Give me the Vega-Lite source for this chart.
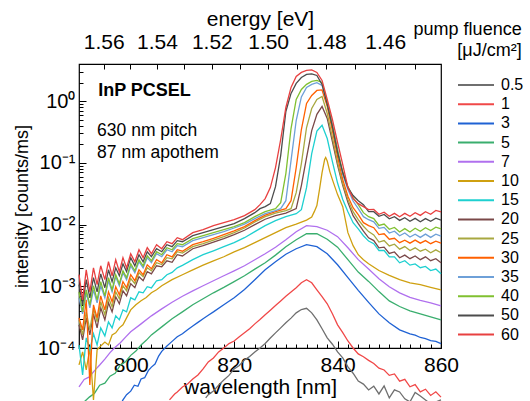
{
"$schema": "https://vega.github.io/schema/vega-lite/v6.json",
"width": 362, "height": 284,
"autosize": {"type": "none"},
"padding": {"left": 79, "top": 64, "right": 89, "bottom": 53},
"background": "white",
"config": {
 "font": "Liberation Sans",
 "view": {"stroke": "black", "strokeWidth": 1.2},
 "axis": {"labelFont": "Liberation Sans", "titleFont": "Liberation Sans", "labelColor": "black", "titleColor": "black", "tickColor": "black", "domainColor": "black", "grid": false, "titleFontWeight": "normal", "labelFlush": false, "labelOverlap": false, "tickWidth": 1},
 "legend": {"labelFont": "Liberation Sans", "titleFont": "Liberation Sans", "labelColor": "black", "titleColor": "black"}
},
"data": {"values": [
{"f":0.5,"w":814.5,"i":1.55e-5},{"f":0.5,"w":815,"i":1.75e-5},{"f":0.5,"w":816,"i":2.01e-5},{"f":0.5,"w":817,"i":2.5e-5},{"f":0.5,"w":818,"i":3.03e-5},{"f":0.5,"w":819,"i":3.6e-5},{"f":0.5,"w":820,"i":4.58e-5},{"f":0.5,"w":821,"i":5.2e-5},{"f":0.5,"w":822,"i":6.41e-5},{"f":0.5,"w":823,"i":7.3e-5},{"f":0.5,"w":824,"i":8.65e-5},{"f":0.5,"w":825,"i":0.0001},{"f":0.5,"w":826,"i":0.000118},{"f":0.5,"w":827,"i":0.000145},{"f":0.5,"w":828,"i":0.000176},{"f":0.5,"w":829,"i":0.000212},{"f":0.5,"w":830,"i":0.000256},{"f":0.5,"w":831,"i":0.000305},{"f":0.5,"w":832,"i":0.000371},{"f":0.5,"w":833,"i":0.00042},{"f":0.5,"w":834,"i":0.00044},{"f":0.5,"w":835,"i":0.000371},{"f":0.5,"w":836,"i":0.000286},{"f":0.5,"w":837,"i":0.000205},{"f":0.5,"w":838,"i":0.000146},{"f":0.5,"w":839,"i":0.000115},{"f":0.5,"w":840,"i":8.65e-5},{"f":0.5,"w":841,"i":6.9e-5},{"f":0.5,"w":842,"i":4.94e-5},{"f":0.5,"w":843,"i":3.9e-5},{"f":0.5,"w":844,"i":2.92e-5},{"f":0.5,"w":845,"i":2.6e-5},{"f":0.5,"w":846,"i":2.09e-5},{"f":0.5,"w":847,"i":2.4e-5},{"f":0.5,"w":848,"i":1.8e-5},{"f":0.5,"w":849,"i":2.43e-5},{"f":0.5,"w":850,"i":1.55e-5},{"f":0.5,"w":851,"i":2.1e-5},{"f":0.5,"w":852,"i":1.94e-5},{"f":0.5,"w":853,"i":1.5e-5},{"f":0.5,"w":854,"i":1.34e-5},{"f":0.5,"w":855,"i":1.9e-5},{"f":0.5,"w":856,"i":1.67e-5},{"f":0.5,"w":858,"i":1.24e-5},{"f":0.5,"w":860,"i":1.44e-5},
{"f":1,"w":807.5,"i":1.44e-5},{"f":1,"w":808.5,"i":1.8e-5},{"f":1,"w":809,"i":1.94e-5},{"f":1,"w":810,"i":2.34e-5},{"f":1,"w":811,"i":2.61e-5},{"f":1,"w":812,"i":3.15e-5},{"f":1,"w":813,"i":3.66e-5},{"f":1,"w":814,"i":4.58e-5},{"f":1,"w":815,"i":5.95e-5},{"f":1,"w":816,"i":6.91e-5},{"f":1,"w":817,"i":8.65e-5},{"f":1,"w":818,"i":0.0001},{"f":1,"w":819,"i":0.000118},{"f":1,"w":820,"i":0.00013},{"f":1,"w":821,"i":0.000152},{"f":1,"w":822,"i":0.000176},{"f":1,"w":823,"i":0.000205},{"f":1,"w":824,"i":0.000246},{"f":1,"w":825,"i":0.00029},{"f":1,"w":826,"i":0.000345},{"f":1,"w":827,"i":0.00041},{"f":1,"w":828,"i":0.00049},{"f":1,"w":829,"i":0.00058},{"f":1,"w":830,"i":0.00069},{"f":1,"w":831,"i":0.00081},{"f":1,"w":832,"i":0.000948},{"f":1,"w":833,"i":0.00114},{"f":1,"w":834,"i":0.00128},{"f":1,"w":835,"i":0.00114},{"f":1,"w":836,"i":0.000877},{"f":1,"w":837,"i":0.00068},{"f":1,"w":838,"i":0.00052},{"f":1,"w":839,"i":0.00036},{"f":1,"w":840,"i":0.000237},{"f":1,"w":841,"i":0.000178},{"f":1,"w":842,"i":0.00013},{"f":1,"w":843,"i":0.0001},{"f":1,"w":844,"i":8.03e-5},{"f":1,"w":845,"i":7.2e-5},{"f":1,"w":846,"i":6.3e-5},{"f":1,"w":847,"i":5.6e-5},{"f":1,"w":848,"i":4.7e-5},{"f":1,"w":849,"i":4.4e-5},{"f":1,"w":850,"i":3.6e-5},{"f":1,"w":851,"i":3.8e-5},{"f":1,"w":852,"i":2.9e-5},{"f":1,"w":853,"i":3.1e-5},{"f":1,"w":854,"i":2.35e-5},{"f":1,"w":855,"i":2.55e-5},{"f":1,"w":856,"i":1.95e-5},{"f":1,"w":857,"i":2.15e-5},{"f":1,"w":858,"i":1.7e-5},{"f":1,"w":859,"i":1.95e-5},{"f":1,"w":860,"i":1.6e-5},
{"f":3,"w":797.5,"i":9.9e-6},{"f":3,"w":798.5,"i":1.44e-5},{"f":3,"w":799.2,"i":1.75e-5},{"f":3,"w":800,"i":2.0e-5},{"f":3,"w":800.7,"i":2.5e-5},{"f":3,"w":801.4,"i":2.4e-5},{"f":3,"w":802,"i":3.15e-5},{"f":3,"w":802.7,"i":3.3e-5},{"f":3,"w":803.4,"i":4.3e-5},{"f":3,"w":804,"i":4.9e-5},{"f":3,"w":804.7,"i":5.5e-5},{"f":3,"w":805.4,"i":7.4e-5},{"f":3,"w":806,"i":8.8e-5},{"f":3,"w":807,"i":0.000108},{"f":3,"w":808,"i":0.000128},{"f":3,"w":809,"i":0.000152},{"f":3,"w":810,"i":0.00017},{"f":3,"w":811,"i":0.000198},{"f":3,"w":812,"i":0.000228},{"f":3,"w":813,"i":0.00026},{"f":3,"w":814,"i":0.000297},{"f":3,"w":815,"i":0.00034},{"f":3,"w":816,"i":0.000385},{"f":3,"w":818,"i":0.000501},{"f":3,"w":820,"i":0.000651},{"f":3,"w":822,"i":0.00089},{"f":3,"w":824,"i":0.00128},{"f":3,"w":826,"i":0.00185},{"f":3,"w":828,"i":0.0025},{"f":3,"w":830,"i":0.0033},{"f":3,"w":832,"i":0.00406},{"f":3,"w":834,"i":0.00472},{"f":3,"w":836,"i":0.00438},{"f":3,"w":838,"i":0.00337},{"f":3,"w":840,"i":0.00223},{"f":3,"w":842,"i":0.00138},{"f":3,"w":844,"i":0.00086},{"f":3,"w":846,"i":0.00055},{"f":3,"w":848,"i":0.000357},{"f":3,"w":850,"i":0.000256},{"f":3,"w":852,"i":0.000197},{"f":3,"w":854,"i":0.00017},{"f":3,"w":855,"i":0.000162},{"f":3,"w":856,"i":0.000148},{"f":3,"w":857,"i":0.000142},{"f":3,"w":858,"i":0.000132},{"f":3,"w":859,"i":0.000128},{"f":3,"w":860,"i":0.000118},
{"f":5,"w":791,"i":1.34e-5},{"f":5,"w":792,"i":1.6e-5},{"f":5,"w":793,"i":1.85e-5},{"f":5,"w":794,"i":2.5e-5},{"f":5,"w":795,"i":2.7e-5},{"f":5,"w":796,"i":3.5e-5},{"f":5,"w":797,"i":3.9e-5},{"f":5,"w":798,"i":5.3e-5},{"f":5,"w":799,"i":6.0e-5},{"f":5,"w":800,"i":7.6e-5},{"f":5,"w":801,"i":8.9e-5},{"f":5,"w":802,"i":0.000112},{"f":5,"w":803,"i":0.000133},{"f":5,"w":804,"i":0.000163},{"f":5,"w":806,"i":0.00022},{"f":5,"w":808,"i":0.000297},{"f":5,"w":810,"i":0.000385},{"f":5,"w":812,"i":0.000501},{"f":5,"w":814,"i":0.000627},{"f":5,"w":816,"i":0.000784},{"f":5,"w":818,"i":0.00096},{"f":5,"w":820,"i":0.00119},{"f":5,"w":822,"i":0.00148},{"f":5,"w":824,"i":0.0019},{"f":5,"w":826,"i":0.00241},{"f":5,"w":828,"i":0.0032},{"f":5,"w":830,"i":0.00438},{"f":5,"w":832,"i":0.00569},{"f":5,"w":834,"i":0.00712},{"f":5,"w":836,"i":0.0071},{"f":5,"w":838,"i":0.0058},{"f":5,"w":840,"i":0.0043},{"f":5,"w":842,"i":0.0027},{"f":5,"w":844,"i":0.0017},{"f":5,"w":846,"i":0.0012},{"f":5,"w":848,"i":0.00082},{"f":5,"w":850,"i":0.00058},{"f":5,"w":852,"i":0.00047},{"f":5,"w":854,"i":0.0004},{"f":5,"w":856,"i":0.000357},{"f":5,"w":858,"i":0.00032},{"f":5,"w":860,"i":0.000286},
{"f":7,"w":790,"i":2.34e-5},{"f":7,"w":791,"i":3.1e-5},{"f":7,"w":792,"i":3.4e-5},{"f":7,"w":793,"i":4.3e-5},{"f":7,"w":794,"i":5.3e-5},{"f":7,"w":795,"i":6.6e-5},{"f":7,"w":796,"i":8.4e-5},{"f":7,"w":797,"i":0.000103},{"f":7,"w":798,"i":0.000122},{"f":7,"w":799,"i":0.00015},{"f":7,"w":800,"i":0.000183},{"f":7,"w":802,"i":0.000246},{"f":7,"w":804,"i":0.000332},{"f":7,"w":806,"i":0.000431},{"f":7,"w":808,"i":0.00055},{"f":7,"w":810,"i":0.00069},{"f":7,"w":812,"i":0.000845},{"f":7,"w":814,"i":0.00102},{"f":7,"w":816,"i":0.00123},{"f":7,"w":818,"i":0.00148},{"f":7,"w":820,"i":0.00178},{"f":7,"w":822,"i":0.00215},{"f":7,"w":824,"i":0.00269},{"f":7,"w":826,"i":0.00337},{"f":7,"w":828,"i":0.0043},{"f":7,"w":830,"i":0.00569},{"f":7,"w":832,"i":0.00767},{"f":7,"w":834,"i":0.0096},{"f":7,"w":836,"i":0.0093},{"f":7,"w":838,"i":0.0081},{"f":7,"w":840,"i":0.00637},{"f":7,"w":842,"i":0.00422},{"f":7,"w":844,"i":0.0027},{"f":7,"w":846,"i":0.0019},{"f":7,"w":848,"i":0.00133},{"f":7,"w":850,"i":0.000983},{"f":7,"w":852,"i":0.000784},{"f":7,"w":854,"i":0.00066},{"f":7,"w":856,"i":0.00059},{"f":7,"w":858,"i":0.00054},{"f":7,"w":860,"i":0.000483},
{"f":10,"w":790,"i":5.32e-5},{"f":10,"w":790.7,"i":8.65e-5},{"f":10,"w":791.4,"i":4.41e-5},{"f":10,"w":792.1,"i":0.0001},{"f":10,"w":792.8,"i":1.44e-5},{"f":10,"w":793.5,"i":9.32e-5},{"f":10,"w":794.2,"i":0.000108},{"f":10,"w":795,"i":0.000125},{"f":10,"w":795.7,"i":0.000112},{"f":10,"w":796.4,"i":0.000163},{"f":10,"w":797.1,"i":0.000176},{"f":10,"w":797.8,"i":0.000212},{"f":10,"w":798.5,"i":0.000237},{"f":10,"w":799.2,"i":0.000308},{"f":10,"w":800,"i":0.000415},{"f":10,"w":801,"i":0.000501},{"f":10,"w":802,"i":0.000582},{"f":10,"w":803,"i":0.00066},{"f":10,"w":804,"i":0.000784},{"f":10,"w":805,"i":0.00088},{"f":10,"w":806,"i":0.00102},{"f":10,"w":808,"i":0.00128},{"f":10,"w":810,"i":0.00154},{"f":10,"w":812,"i":0.00185},{"f":10,"w":814,"i":0.0022},{"f":10,"w":816,"i":0.00259},{"f":10,"w":818,"i":0.00301},{"f":10,"w":820,"i":0.0036},{"f":10,"w":822,"i":0.00422},{"f":10,"w":824,"i":0.00509},{"f":10,"w":826,"i":0.00613},{"f":10,"w":828,"i":0.00739},{"f":10,"w":830,"i":0.00891},{"f":10,"w":832,"i":0.0102},{"f":10,"w":834,"i":0.0118},{"f":10,"w":835,"i":0.0132},{"f":10,"w":835.5,"i":0.0162},{"f":10,"w":836,"i":0.0203},{"f":10,"w":836.5,"i":0.0369},{"f":10,"w":837,"i":0.0696},{"f":10,"w":837.5,"i":0.1132},{"f":10,"w":837.7,"i":0.122},{"f":10,"w":838,"i":0.107},{"f":10,"w":838.5,"i":0.0722},{"f":10,"w":839,"i":0.0536},{"f":10,"w":840,"i":0.0306},{"f":10,"w":841,"i":0.01953},{"f":10,"w":842,"i":0.00739},{"f":10,"w":843,"i":0.00455},{"f":10,"w":844,"i":0.00325},{"f":10,"w":845,"i":0.0027},{"f":10,"w":846,"i":0.00232},{"f":10,"w":848,"i":0.0018},{"f":10,"w":850,"i":0.0015},{"f":10,"w":852,"i":0.00128},{"f":10,"w":854,"i":0.00114},{"f":10,"w":856,"i":0.00106},{"f":10,"w":858,"i":0.00096},{"f":10,"w":860,"i":0.000877},
{"f":15,"w":790,"i":0.000112},{"f":15,"w":790.7,"i":3.66e-5},{"f":15,"w":791.4,"i":0.000146},{"f":15,"w":792.1,"i":9.32e-5},{"f":15,"w":792.8,"i":0.00017},{"f":15,"w":793.5,"i":0.000112},{"f":15,"w":794.2,"i":0.000212},{"f":15,"w":795,"i":0.000157},{"f":15,"w":795.7,"i":0.000265},{"f":15,"w":796.4,"i":0.000212},{"f":15,"w":797.1,"i":0.000332},{"f":15,"w":797.8,"i":0.000286},{"f":15,"w":798.5,"i":0.000415},{"f":15,"w":799.2,"i":0.000385},{"f":15,"w":800,"i":0.000651},{"f":15,"w":800.8,"i":0.000604},{"f":15,"w":801.6,"i":0.000814},{"f":15,"w":802.4,"i":0.000784},{"f":15,"w":803.2,"i":0.000983},{"f":15,"w":804,"i":0.00094},{"f":15,"w":805,"i":0.00123},{"f":15,"w":806,"i":0.00128},{"f":15,"w":807,"i":0.00154},{"f":15,"w":808,"i":0.00168},{"f":15,"w":809,"i":0.00199},{"f":15,"w":810,"i":0.00218},{"f":15,"w":812,"i":0.0027},{"f":15,"w":814,"i":0.00325},{"f":15,"w":816,"i":0.00376},{"f":15,"w":818,"i":0.00438},{"f":15,"w":820,"i":0.00509},{"f":15,"w":822,"i":0.00613},{"f":15,"w":824,"i":0.00767},{"f":15,"w":826,"i":0.00959},{"f":15,"w":828,"i":0.01157},{"f":15,"w":830,"i":0.01344},{"f":15,"w":832,"i":0.01502},{"f":15,"w":833,"i":0.01745},{"f":15,"w":834,"i":0.0397},{"f":15,"w":835,"i":0.1416},{"f":15,"w":836,"i":0.328},{"f":15,"w":837,"i":0.406},{"f":15,"w":838,"i":0.248},{"f":15,"w":839,"i":0.105},{"f":15,"w":840,"i":0.0471},{"f":15,"w":841,"i":0.0255},{"f":15,"w":842,"i":0.0161},{"f":15,"w":843,"i":0.01074},{"f":15,"w":844,"i":0.0085},{"f":15,"w":845,"i":0.0066},{"f":15,"w":846,"i":0.0054},{"f":15,"w":847,"i":0.0049},{"f":15,"w":848,"i":0.0038},{"f":15,"w":849,"i":0.0038},{"f":15,"w":850,"i":0.003},{"f":15,"w":851,"i":0.003},{"f":15,"w":852,"i":0.0024},{"f":15,"w":853,"i":0.0026},{"f":15,"w":854,"i":0.0022},{"f":15,"w":855,"i":0.0023},{"f":15,"w":856,"i":0.002},{"f":15,"w":857,"i":0.0021},{"f":15,"w":858,"i":0.0018},{"f":15,"w":859,"i":0.0019},{"f":15,"w":860,"i":0.0016},
{"f":20,"w":790,"i":0.000237},{"f":20,"w":790.7,"i":0.000135},{"f":20,"w":791.4,"i":0.000308},{"f":20,"w":792.1,"i":0.000163},{"f":20,"w":792.8,"i":0.000357},{"f":20,"w":793.5,"i":0.000212},{"f":20,"w":794.2,"i":0.000448},{"f":20,"w":795,"i":0.000286},{"f":20,"w":795.7,"i":0.00054},{"f":20,"w":796.4,"i":0.000385},{"f":20,"w":797.1,"i":0.000676},{"f":20,"w":797.8,"i":0.00052},{"f":20,"w":798.5,"i":0.000845},{"f":20,"w":799.2,"i":0.000701},{"f":20,"w":800,"i":0.0011},{"f":20,"w":800.8,"i":0.000948},{"f":20,"w":801.6,"i":0.00143},{"f":20,"w":802.4,"i":0.00123},{"f":20,"w":803.2,"i":0.00172},{"f":20,"w":804,"i":0.00159},{"f":20,"w":805,"i":0.00215},{"f":20,"w":806,"i":0.00207},{"f":20,"w":807,"i":0.00259},{"f":20,"w":808,"i":0.00245},{"f":20,"w":809,"i":0.00325},{"f":20,"w":810,"i":0.0031},{"f":20,"w":812,"i":0.00406},{"f":20,"w":814,"i":0.00455},{"f":20,"w":816,"i":0.0052},{"f":20,"w":818,"i":0.00591},{"f":20,"w":820,"i":0.00686},{"f":20,"w":822,"i":0.0081},{"f":20,"w":824,"i":0.00996},{"f":20,"w":826,"i":0.0122},{"f":20,"w":828,"i":0.01394},{"f":20,"w":830,"i":0.0153},{"f":20,"w":832,"i":0.01812},{"f":20,"w":833,"i":0.0428},{"f":20,"w":834,"i":0.122},{"f":20,"w":835,"i":0.334},{"f":20,"w":836,"i":0.61},{"f":20,"w":837,"i":0.822},{"f":20,"w":838,"i":0.524},{"f":20,"w":839,"i":0.222},{"f":20,"w":840,"i":0.092},{"f":20,"w":841,"i":0.0432},{"f":20,"w":842,"i":0.0229},{"f":20,"w":843,"i":0.01394},{"f":20,"w":844,"i":0.01034},{"f":20,"w":845,"i":0.0078},{"f":20,"w":846,"i":0.0061},{"f":20,"w":847,"i":0.0055},{"f":20,"w":848,"i":0.0042},{"f":20,"w":849,"i":0.0043},{"f":20,"w":850,"i":0.0034},{"f":20,"w":851,"i":0.0036},{"f":20,"w":852,"i":0.0029},{"f":20,"w":853,"i":0.0032},{"f":20,"w":854,"i":0.0028},{"f":20,"w":855,"i":0.0031},{"f":20,"w":856,"i":0.0027},{"f":20,"w":857,"i":0.003},{"f":20,"w":858,"i":0.0026},{"f":20,"w":859,"i":0.0028},{"f":20,"w":860,"i":0.0024},
{"f":25,"w":790,"i":0.000286},{"f":25,"w":790.7,"i":0.000163},{"f":25,"w":791.4,"i":0.000385},{"f":25,"w":792.1,"i":0.000197},{"f":25,"w":792.8,"i":0.000448},{"f":25,"w":793.5,"i":0.000265},{"f":25,"w":794.2,"i":0.000561},{"f":25,"w":795,"i":0.000345},{"f":25,"w":795.7,"i":0.000651},{"f":25,"w":796.4,"i":0.000465},{"f":25,"w":797.1,"i":0.000814},{"f":25,"w":797.8,"i":0.000627},{"f":25,"w":798.5,"i":0.00102},{"f":25,"w":799.2,"i":0.000845},{"f":25,"w":800,"i":0.00133},{"f":25,"w":800.8,"i":0.0011},{"f":25,"w":801.6,"i":0.00166},{"f":25,"w":802.4,"i":0.00143},{"f":25,"w":803.2,"i":0.00199},{"f":25,"w":804,"i":0.00178},{"f":25,"w":805,"i":0.00241},{"f":25,"w":806,"i":0.00225},{"f":25,"w":807,"i":0.00291},{"f":25,"w":808,"i":0.00278},{"f":25,"w":809,"i":0.00363},{"f":25,"w":810,"i":0.00345},{"f":25,"w":812,"i":0.00438},{"f":25,"w":814,"i":0.0049},{"f":25,"w":816,"i":0.0056},{"f":25,"w":818,"i":0.00637},{"f":25,"w":820,"i":0.00739},{"f":25,"w":822,"i":0.0088},{"f":25,"w":824,"i":0.011},{"f":25,"w":826,"i":0.01344},{"f":25,"w":828,"i":0.0153},{"f":25,"w":830,"i":0.0168},{"f":25,"w":831,"i":0.01812},{"f":25,"w":832,"i":0.0329},{"f":25,"w":833,"i":0.0975},{"f":25,"w":834,"i":0.374},{"f":25,"w":835,"i":0.761},{"f":25,"w":836,"i":1.066},{"f":25,"w":837,"i":1.192},{"f":25,"w":838,"i":0.631},{"f":25,"w":839,"i":0.257},{"f":25,"w":840,"i":0.1011},{"f":25,"w":841,"i":0.0461},{"f":25,"w":842,"i":0.02536},{"f":25,"w":843,"i":0.0162},{"f":25,"w":844,"i":0.01201},{"f":25,"w":845,"i":0.0094},{"f":25,"w":846,"i":0.0077},{"f":25,"w":847,"i":0.0068},{"f":25,"w":848,"i":0.0052},{"f":25,"w":849,"i":0.0055},{"f":25,"w":850,"i":0.0045},{"f":25,"w":851,"i":0.0048},{"f":25,"w":852,"i":0.004},{"f":25,"w":853,"i":0.0044},{"f":25,"w":854,"i":0.0038},{"f":25,"w":855,"i":0.0042},{"f":25,"w":856,"i":0.0037},{"f":25,"w":857,"i":0.004},{"f":25,"w":858,"i":0.0035},{"f":25,"w":859,"i":0.0039},{"f":25,"w":860,"i":0.0035},
{"f":30,"w":790,"i":0.000308},{"f":30,"w":790.7,"i":0.000197},{"f":30,"w":791.4,"i":0.000604},{"f":30,"w":792.1,"i":2.52e-5},{"f":30,"w":792.8,"i":0.000501},{"f":30,"w":793.5,"i":0.000308},{"f":30,"w":794.2,"i":0.000701},{"f":30,"w":795,"i":0.000415},{"f":30,"w":795.7,"i":0.000814},{"f":30,"w":796.4,"i":0.000561},{"f":30,"w":797.1,"i":0.000983},{"f":30,"w":797.8,"i":0.000728},{"f":30,"w":798.5,"i":0.00119},{"f":30,"w":799.2,"i":0.000948},{"f":30,"w":800,"i":0.00154},{"f":30,"w":800.8,"i":0.00123},{"f":30,"w":801.6,"i":0.00185},{"f":30,"w":802.4,"i":0.00154},{"f":30,"w":803.2,"i":0.00223},{"f":30,"w":804,"i":0.00192},{"f":30,"w":805,"i":0.00269},{"f":30,"w":806,"i":0.0024},{"f":30,"w":807,"i":0.00325},{"f":30,"w":808,"i":0.003},{"f":30,"w":809,"i":0.00391},{"f":30,"w":810,"i":0.0037},{"f":30,"w":812,"i":0.00472},{"f":30,"w":814,"i":0.00528},{"f":30,"w":816,"i":0.006},{"f":30,"w":818,"i":0.00686},{"f":30,"w":820,"i":0.0079},{"f":30,"w":822,"i":0.00925},{"f":30,"w":824,"i":0.01157},{"f":30,"w":826,"i":0.0142},{"f":30,"w":828,"i":0.0162},{"f":30,"w":830,"i":0.01812},{"f":30,"w":831,"i":0.02442},{"f":30,"w":832,"i":0.084},{"f":30,"w":833,"i":0.347},{"f":30,"w":834,"i":0.918},{"f":30,"w":835,"i":1.238},{"f":30,"w":836,"i":1.49},{"f":30,"w":837,"i":1.52},{"f":30,"w":838,"i":0.822},{"f":30,"w":839,"i":0.334},{"f":30,"w":840,"i":0.1266},{"f":30,"w":841,"i":0.0536},{"f":30,"w":842,"i":0.0288},{"f":30,"w":843,"i":0.0188},{"f":30,"w":844,"i":0.01448},{"f":30,"w":845,"i":0.01074},{"f":30,"w":846,"i":0.0096},{"f":30,"w":847,"i":0.0089},{"f":30,"w":848,"i":0.0069},{"f":30,"w":849,"i":0.0071},{"f":30,"w":850,"i":0.0058},{"f":30,"w":851,"i":0.006},{"f":30,"w":852,"i":0.0051},{"f":30,"w":853,"i":0.0056},{"f":30,"w":854,"i":0.005},{"f":30,"w":855,"i":0.0056},{"f":30,"w":856,"i":0.005},{"f":30,"w":857,"i":0.0055},{"f":30,"w":858,"i":0.0049},{"f":30,"w":859,"i":0.0054},{"f":30,"w":860,"i":0.005},
{"f":35,"w":790,"i":0.000651},{"f":35,"w":790.7,"i":0.000357},{"f":35,"w":791.4,"i":0.000784},{"f":35,"w":792.1,"i":0.000448},{"f":35,"w":792.8,"i":0.000877},{"f":35,"w":793.5,"i":0.00054},{"f":35,"w":794.2,"i":0.00102},{"f":35,"w":795,"i":0.000651},{"f":35,"w":795.7,"i":0.00123},{"f":35,"w":796.4,"i":0.000814},{"f":35,"w":797.1,"i":0.00143},{"f":35,"w":797.8,"i":0.00102},{"f":35,"w":798.5,"i":0.00166},{"f":35,"w":799.2,"i":0.00128},{"f":35,"w":800,"i":0.00215},{"f":35,"w":800.8,"i":0.00166},{"f":35,"w":801.6,"i":0.0025},{"f":35,"w":802.4,"i":0.00199},{"f":35,"w":803.2,"i":0.00291},{"f":35,"w":804,"i":0.00241},{"f":35,"w":805,"i":0.00337},{"f":35,"w":806,"i":0.00301},{"f":35,"w":807,"i":0.00391},{"f":35,"w":808,"i":0.00363},{"f":35,"w":809,"i":0.00455},{"f":35,"w":810,"i":0.00438},{"f":35,"w":812,"i":0.00548},{"f":35,"w":814,"i":0.00613},{"f":35,"w":816,"i":0.00686},{"f":35,"w":818,"i":0.00767},{"f":35,"w":820,"i":0.0088},{"f":35,"w":822,"i":0.0102},{"f":35,"w":824,"i":0.01247},{"f":35,"w":826,"i":0.01502},{"f":35,"w":828,"i":0.0168},{"f":35,"w":829,"i":0.01812},{"f":35,"w":830,"i":0.02442},{"f":35,"w":831,"i":0.109},{"f":35,"w":832,"i":0.486},{"f":35,"w":833,"i":1.17},{"f":35,"w":834,"i":1.67},{"f":35,"w":835,"i":1.87},{"f":35,"w":836,"i":1.99},{"f":35,"w":837,"i":1.8},{"f":35,"w":838,"i":0.953},{"f":35,"w":839,"i":0.418},{"f":35,"w":840,"i":0.1644},{"f":35,"w":841,"i":0.0646},{"f":35,"w":842,"i":0.0369},{"f":35,"w":843,"i":0.0241},{"f":35,"w":844,"i":0.01812},{"f":35,"w":845,"i":0.01344},{"f":35,"w":846,"i":0.012},{"f":35,"w":847,"i":0.0111},{"f":35,"w":848,"i":0.0087},{"f":35,"w":849,"i":0.009},{"f":35,"w":850,"i":0.0073},{"f":35,"w":851,"i":0.0078},{"f":35,"w":852,"i":0.0066},{"f":35,"w":853,"i":0.0073},{"f":35,"w":854,"i":0.0063},{"f":35,"w":855,"i":0.007},{"f":35,"w":856,"i":0.0062},{"f":35,"w":857,"i":0.007},{"f":35,"w":858,"i":0.0062},{"f":35,"w":859,"i":0.007},{"f":35,"w":860,"i":0.0065},
{"f":40,"w":790,"i":0.000814},{"f":40,"w":790.7,"i":0.000385},{"f":40,"w":791.4,"i":0.000877},{"f":40,"w":792.1,"i":0.000501},{"f":40,"w":792.8,"i":0.00102},{"f":40,"w":793.5,"i":0.000604},{"f":40,"w":794.2,"i":0.00119},{"f":40,"w":795,"i":0.000701},{"f":40,"w":795.7,"i":0.00138},{"f":40,"w":796.4,"i":0.000877},{"f":40,"w":797.1,"i":0.00154},{"f":40,"w":797.8,"i":0.0011},{"f":40,"w":798.5,"i":0.00178},{"f":40,"w":799.2,"i":0.00138},{"f":40,"w":800,"i":0.00232},{"f":40,"w":800.8,"i":0.00178},{"f":40,"w":801.6,"i":0.00269},{"f":40,"w":802.4,"i":0.00215},{"f":40,"w":803.2,"i":0.00313},{"f":40,"w":804,"i":0.00259},{"f":40,"w":805,"i":0.00363},{"f":40,"w":806,"i":0.00325},{"f":40,"w":807,"i":0.00422},{"f":40,"w":808,"i":0.00391},{"f":40,"w":809,"i":0.0049},{"f":40,"w":810,"i":0.00472},{"f":40,"w":812,"i":0.00591},{"f":40,"w":814,"i":0.00661},{"f":40,"w":816,"i":0.00739},{"f":40,"w":818,"i":0.00827},{"f":40,"w":820,"i":0.00925},{"f":40,"w":822,"i":0.01074},{"f":40,"w":824,"i":0.01344},{"f":40,"w":826,"i":0.0162},{"f":40,"w":828,"i":0.01812},{"f":40,"w":829,"i":0.02266},{"f":40,"w":830,"i":0.067},{"f":40,"w":831,"i":0.36},{"f":40,"w":832,"i":1.066},{"f":40,"w":833,"i":1.549},{"f":40,"w":834,"i":1.87},{"f":40,"w":835,"i":2.09},{"f":40,"w":836,"i":2.167},{"f":40,"w":837,"i":2.01},{"f":40,"w":838,"i":0.953},{"f":40,"w":839,"i":0.389},{"f":40,"w":840,"i":0.158},{"f":40,"w":841,"i":0.071},{"f":40,"w":842,"i":0.0412},{"f":40,"w":843,"i":0.0274},{"f":40,"w":844,"i":0.02104},{"f":40,"w":845,"i":0.0156},{"f":40,"w":846,"i":0.01344},{"f":40,"w":847,"i":0.0125},{"f":40,"w":848,"i":0.0097},{"f":40,"w":849,"i":0.0102},{"f":40,"w":850,"i":0.0084},{"f":40,"w":851,"i":0.009},{"f":40,"w":852,"i":0.0076},{"f":40,"w":853,"i":0.0086},{"f":40,"w":854,"i":0.0076},{"f":40,"w":855,"i":0.0087},{"f":40,"w":856,"i":0.0078},{"f":40,"w":857,"i":0.0089},{"f":40,"w":858,"i":0.008},{"f":40,"w":859,"i":0.0091},{"f":40,"w":860,"i":0.0085},
{"f":50,"w":790,"i":0.00106},{"f":50,"w":790.7,"i":0.000501},{"f":50,"w":791.4,"i":0.00128},{"f":50,"w":792.1,"i":0.000651},{"f":50,"w":792.8,"i":0.00138},{"f":50,"w":793.5,"i":0.000814},{"f":50,"w":794.2,"i":0.00159},{"f":50,"w":795,"i":0.000948},{"f":50,"w":795.7,"i":0.00185},{"f":50,"w":796.4,"i":0.00119},{"f":50,"w":797.1,"i":0.00199},{"f":50,"w":797.8,"i":0.00148},{"f":50,"w":798.5,"i":0.00232},{"f":50,"w":799.2,"i":0.00172},{"f":50,"w":800,"i":0.00291},{"f":50,"w":800.8,"i":0.00215},{"f":50,"w":801.6,"i":0.00325},{"f":50,"w":802.4,"i":0.0025},{"f":50,"w":803.2,"i":0.00363},{"f":50,"w":804,"i":0.00301},{"f":50,"w":805,"i":0.00406},{"f":50,"w":806,"i":0.00363},{"f":50,"w":807,"i":0.00472},{"f":50,"w":808,"i":0.00438},{"f":50,"w":809,"i":0.00548},{"f":50,"w":810,"i":0.00528},{"f":50,"w":812,"i":0.00661},{"f":50,"w":814,"i":0.00739},{"f":50,"w":816,"i":0.00827},{"f":50,"w":818,"i":0.00925},{"f":50,"w":820,"i":0.01034},{"f":50,"w":822,"i":0.01247},{"f":50,"w":824,"i":0.0156},{"f":50,"w":825,"i":0.01812},{"f":50,"w":826,"i":0.01953},{"f":50,"w":827,"i":0.02184},{"f":50,"w":828,"i":0.0412},{"f":50,"w":829,"i":0.1314},{"f":50,"w":830,"i":0.68},{"f":50,"w":831,"i":1.334},{"f":50,"w":832,"i":1.937},{"f":50,"w":833,"i":2.42},{"f":50,"w":834,"i":2.71},{"f":50,"w":835,"i":2.76},{"f":50,"w":836,"i":2.61},{"f":50,"w":837,"i":1.87},{"f":50,"w":838,"i":0.884},{"f":50,"w":839,"i":0.388},{"f":50,"w":840,"i":0.147},{"f":50,"w":841,"i":0.0696},{"f":50,"w":842,"i":0.0397},{"f":50,"w":843,"i":0.0295},{"f":50,"w":844,"i":0.02442},{"f":50,"w":845,"i":0.02104},{"f":50,"w":846,"i":0.0162},{"f":50,"w":847,"i":0.0162},{"f":50,"w":848,"i":0.0136},{"f":50,"w":849,"i":0.0146},{"f":50,"w":850,"i":0.0124},{"f":50,"w":851,"i":0.0134},{"f":50,"w":852,"i":0.0117},{"f":50,"w":853,"i":0.0129},{"f":50,"w":854,"i":0.0113},{"f":50,"w":855,"i":0.0126},{"f":50,"w":856,"i":0.0111},{"f":50,"w":857,"i":0.0125},{"f":50,"w":858,"i":0.0113},{"f":50,"w":859,"i":0.0127},{"f":50,"w":860,"i":0.0118},
{"f":60,"w":790,"i":0.00154},{"f":60,"w":790.7,"i":0.000604},{"f":60,"w":791.4,"i":0.00185},{"f":60,"w":792.1,"i":0.000814},{"f":60,"w":792.8,"i":0.00199},{"f":60,"w":793.5,"i":0.00106},{"f":60,"w":794.2,"i":0.00215},{"f":60,"w":795,"i":0.00128},{"f":60,"w":795.7,"i":0.0025},{"f":60,"w":796.4,"i":0.00148},{"f":60,"w":797.1,"i":0.00269},{"f":60,"w":797.8,"i":0.00172},{"f":60,"w":798.5,"i":0.00291},{"f":60,"w":799.2,"i":0.00199},{"f":60,"w":800,"i":0.00337},{"f":60,"w":800.8,"i":0.0025},{"f":60,"w":801.6,"i":0.00391},{"f":60,"w":802.4,"i":0.00291},{"f":60,"w":803.2,"i":0.00422},{"f":60,"w":804,"i":0.00337},{"f":60,"w":805,"i":0.00472},{"f":60,"w":806,"i":0.00406},{"f":60,"w":807,"i":0.00528},{"f":60,"w":808,"i":0.0049},{"f":60,"w":809,"i":0.00613},{"f":60,"w":810,"i":0.00569},{"f":60,"w":812,"i":0.00739},{"f":60,"w":814,"i":0.00827},{"f":60,"w":816,"i":0.00959},{"f":60,"w":818,"i":0.01074},{"f":60,"w":820,"i":0.01201},{"f":60,"w":822,"i":0.01394},{"f":60,"w":824,"i":0.01745},{"f":60,"w":825,"i":0.02104},{"f":60,"w":826,"i":0.02635},{"f":60,"w":827,"i":0.0397},{"f":60,"w":828,"i":0.084},{"f":60,"w":829,"i":0.239},{"f":60,"w":830,"i":0.79},{"f":60,"w":831,"i":1.672},{"f":60,"w":832,"i":2.515},{"f":60,"w":833,"i":2.923},{"f":60,"w":834,"i":3.149},{"f":60,"w":835,"i":3.21},{"f":60,"w":836,"i":2.92},{"f":60,"w":837,"i":2.167},{"f":60,"w":838,"i":1.066},{"f":60,"w":839,"i":0.505},{"f":60,"w":840,"i":0.2137},{"f":60,"w":841,"i":0.0939},{"f":60,"w":842,"i":0.0397},{"f":60,"w":843,"i":0.02635},{"f":60,"w":844,"i":0.02184},{"f":60,"w":845,"i":0.01953},{"f":60,"w":846,"i":0.0175},{"f":60,"w":847,"i":0.0176},{"f":60,"w":848,"i":0.0147},{"f":60,"w":849,"i":0.0159},{"f":60,"w":850,"i":0.0136},{"f":60,"w":851,"i":0.0152},{"f":60,"w":852,"i":0.0134},{"f":60,"w":853,"i":0.0152},{"f":60,"w":854,"i":0.0136},{"f":60,"w":855,"i":0.0156},{"f":60,"w":856,"i":0.0141},{"f":60,"w":857,"i":0.0162},{"f":60,"w":858,"i":0.0147},{"f":60,"w":859,"i":0.017},{"f":60,"w":860,"i":0.016}
]},
"layer": [
 {
  "mark": {"type": "line", "strokeWidth": 1.3},
  "encoding": {
   "x": {"field": "w", "type": "quantitative", "scale": {"domain": [790, 860], "nice": false, "zero": false},
    "axis": {"orient": "bottom", "values": [800, 820, 840, 860], "tickSize": -7, "labelPadding": 13, "labelFontSize": 21, "title": "wavelength [nm]", "titleFontSize": 21, "titlePadding": 1, "domain": false}},
   "y": {"field": "i", "type": "quantitative", "scale": {"type": "log", "domain": [0.0001, 4], "nice": false},
    "axis": {"orient": "left", "values": [0.0001, 0.001, 0.01, 0.1, 1], "labelExpr": "datum.value > 0.5 ? '10⁰' : datum.value > 0.05 ? '10⁻¹' : datum.value > 0.005 ? '10⁻²' : datum.value > 0.0005 ? '10⁻³' : '10⁻⁴'", "tickSize": -7, "labelPadding": 11, "labelFontSize": 20, "title": "intensity [counts/ms]", "titleFontSize": 18, "titlePadding": 6, "domain": false}},
   "color": {"field": "f", "type": "ordinal",
    "scale": {"domain": [0.5, 1, 3, 5, 7, 10, 15, 20, 25, 30, 35, 40, 50, 60], "range": ["#6f6f6f", "#f04848", "#1f62d4", "#3aae6e", "#b070ee", "#cfa010", "#1ed0d0", "#7a4848", "#a8a840", "#ff6000", "#6ea0d8", "#80c030", "#4c4c4c", "#e84040"]},
    "legend": {"orient": "none", "legendX": 389, "legendY": 13, "title": null, "labelFontSize": 16, "symbolType": "M-3,0H3", "symbolSize": 144, "symbolStrokeWidth": 2, "rowPadding": 3.2, "labelOffset": 17, "padding": 0}}
  }
 },
 {
  "mark": {"type": "line", "opacity": 0},
  "encoding": {
   "x": {"field": "w", "type": "quantitative", "scale": {"domain": [790, 860], "nice": false, "zero": false},
    "axis": {"orient": "bottom", "values": [792, 794, 796, 798, 802, 804, 806, 808, 810, 812, 814, 816, 818, 822, 824, 826, 828, 830, 832, 834, 836, 838, 842, 844, 846, 848, 850, 852, 854, 856, 858], "labels": false, "tickSize": -4, "domain": false, "title": null}},
   "y": {"field": "i", "type": "quantitative", "scale": {"type": "log", "domain": [0.0001, 4], "nice": false},
    "axis": {"orient": "left", "values": [0.0002, 0.0003, 0.0004, 0.0005, 0.0006, 0.0007, 0.0008, 0.0009, 0.002, 0.003, 0.004, 0.005, 0.006, 0.007, 0.008, 0.009, 0.02, 0.03, 0.04, 0.05, 0.06, 0.07, 0.08, 0.09, 0.2, 0.3, 0.4, 0.5, 0.6, 0.7, 0.8, 0.9, 2, 3, 4], "labels": false, "tickSize": -4, "domain": false, "title": null}}
  }
 },
 {
  "mark": {"type": "line", "opacity": 0},
  "encoding": {
   "x": {"field": "w", "type": "quantitative", "scale": {"domain": [790, 860], "nice": false, "zero": false},
    "axis": {"orient": "top", "values": [794.769, 799.897, 805.091, 810.353, 815.684, 821.086, 826.56, 832.107, 837.73, 843.429, 849.205, 855.062], "labelExpr": "round(123984 / datum.value) % 2 == 0 ? format(1239.84 / datum.value, '.2f') : ''", "tickSize": -5, "labelPadding": 17, "labelFontSize": 21, "title": "energy [eV]", "titleFontSize": 21, "titlePadding": 2, "domain": false}},
   "y": {"field": "i", "type": "quantitative", "scale": {"type": "log", "domain": [0.0001, 4], "nice": false}, "axis": null}
  }
 },
 {
  "data": {"values": [{}]},
  "mark": {"type": "text", "text": "InP PCSEL", "fontWeight": "bold", "fontSize": 18, "align": "left", "baseline": "alphabetic", "font": "Liberation Sans", "color": "black"},
  "encoding": {
   "x": {"datum": 793.7, "type": "quantitative", "scale": {"domain": [790, 860], "nice": false, "zero": false}, "axis": null},
   "y": {"datum": 1.214, "type": "quantitative", "scale": {"type": "log", "domain": [0.0001, 4], "nice": false}, "axis": null}
  }
 },
 {
  "data": {"values": [{}]},
  "mark": {"type": "text", "text": ["630 nm pitch", "87 nm apothem"], "fontSize": 17.5, "lineHeight": 21.6, "align": "left", "baseline": "alphabetic", "font": "Liberation Sans", "color": "black"},
  "encoding": {
   "x": {"datum": 793.5, "type": "quantitative", "scale": {"domain": [790, 860], "nice": false, "zero": false}, "axis": null},
   "y": {"datum": 0.2703, "type": "quantitative", "scale": {"type": "log", "domain": [0.0001, 4], "nice": false}, "axis": null}
  }
 },
 {
  "data": {"values": [{}]},
  "mark": {"type": "text", "text": ["pump fluence", "[μJ/cm²]"], "fontSize": 18, "lineHeight": 20.5, "align": "right", "baseline": "alphabetic", "font": "Liberation Sans", "color": "black"},
  "encoding": {
   "x": {"datum": 875.6, "type": "quantitative", "scale": {"domain": [790, 860], "nice": false, "zero": false}, "axis": null},
   "y": {"datum": 11.66, "type": "quantitative", "scale": {"type": "log", "domain": [0.0001, 4], "nice": false}, "axis": null}
  }
 }
],
"resolve": {"axis": {"x": "independent", "y": "independent"}}
}
